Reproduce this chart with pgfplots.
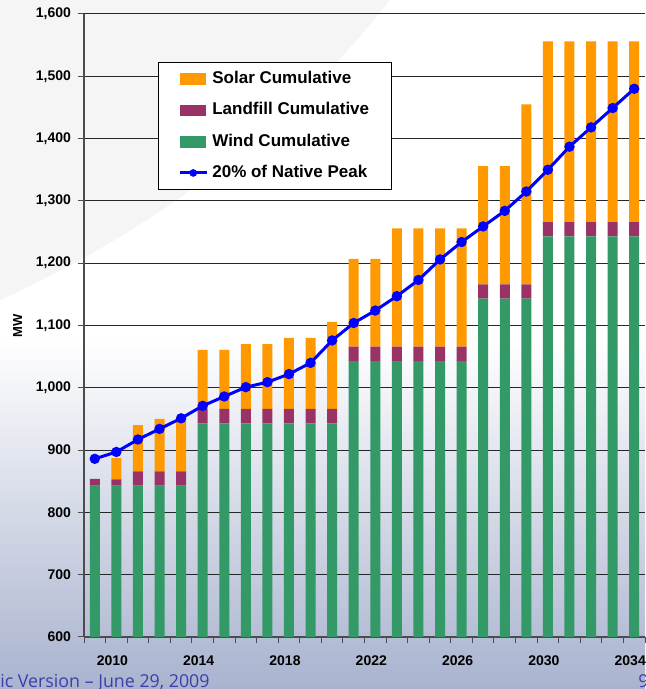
\documentclass[border=0pt]{standalone}
\usepackage{pgfplots}
\pgfplotsset{compat=1.18}
\usepackage{pgfplotstable}
\usepackage{fontspec}
\setmainfont{Liberation Sans}
\newfontfamily\footfont{Open Sans}

\definecolor{solar}{HTML}{FF9900}
\definecolor{landfill}{HTML}{993366}
\definecolor{wind}{HTML}{339966}
\definecolor{peak}{HTML}{0000FF}
\definecolor{slidebot}{HTML}{A9B3CF}
\definecolor{foot}{HTML}{3B3FA8}

% MW by year (yr 0 = 2009)
\pgfplotstableread{
yr wind landfill solar peak
0  843  11   0  886
1  843  10  34  897
2  843  23  74  917
3  843  23  84  934
4  843  23  84  951
5  943  23  95  971
6  943  23  95  986
7  943  23 104 1001
8  943  23 104 1009
9  943  23 114 1022
10 943  23 114 1040
11 943  23 140 1076
12 1043 23 141 1104
13 1043 23 141 1124
14 1043 23 190 1147
15 1043 23 190 1173
16 1043 23 190 1206
17 1043 23 190 1234
18 1143 23 190 1259
19 1143 23 190 1284
20 1143 23 289 1315
21 1243 23 290 1350
22 1243 23 290 1387
23 1243 23 290 1418
24 1243 23 290 1449
25 1243 23 290 1480
}\datatable

\begin{document}
\begin{tikzpicture}[x=1pt,y=1pt]
\useasboundingbox (0,0) rectangle (322.5,344.5);
\fill[white] (0,0) rectangle (322.5,344.5);
\shade[top color=white, bottom color=slidebot] (0,0) rectangle (322.5,175);
\fill[black!4] (0,344.5) -- (195,344.5) .. controls (160,300) and (100,240) .. (0,194.5) -- cycle;

\begin{axis}[
at={(42pt,26pt)}, anchor=south west,
scale only axis, width=280.5pt, height=311.5pt,
ybar stacked, bar width=5pt,
xmin=-0.5, xmax=25.5, ymin=600, ymax=1600,
xtick={1,5,...,25},
xticklabels={2010,2014,2018,2022,2026,2030,2034},
major x tick style={draw=none},
minor xtick={-0.5,0.5,...,25.5},
ytick={600,700,...,1600},
ymajorgrids, grid style={black!85, line width=0.5pt},
axis x line*=bottom, axis y line*=left,
axis line style={black!70, line width=0.6pt},
tick align=outside, tick style={black!70, line width=0.5pt},
major tick length=3pt, minor tick length=3pt,
/pgf/number format/1000 sep={,},
/pgf/number format/assume math mode=true,
ticklabel style={font=\bfseries\fontsize{7}{8}\selectfont},
xticklabel style={xshift=-2pt, yshift=-3pt},
ylabel={MW}, ylabel style={font=\bfseries\fontsize{6.5}{8}\selectfont},
legend style={at={(0.132,0.923)}, anchor=north west, draw=black, fill=white,
  font=\bfseries\fontsize{8.5}{10}\selectfont, row sep=4pt,
  inner xsep=9pt, inner ysep=2.5pt},
legend cell align=left,
]
\addlegendimage{legend image code/.code={\path (0pt,0pt); \fill[solar] (2pt,-2.7pt) rectangle (14.5pt,2.7pt);}}
\addlegendentry{Solar Cumulative}
\addlegendimage{legend image code/.code={\path (0pt,0pt); \fill[landfill] (2pt,-2.7pt) rectangle (14.5pt,2.7pt);}}
\addlegendentry{Landfill Cumulative}
\addlegendimage{legend image code/.code={\path (0pt,0pt); \fill[wind] (2pt,-2.7pt) rectangle (14.5pt,2.7pt);}}
\addlegendentry{Wind Cumulative}
\addlegendimage{legend image code/.code={\path (0pt,0pt); \draw[peak, line width=1.5pt] (1.5pt,0pt) -- (15pt,0pt); \fill[peak] (8.2pt,0pt) circle (1.7pt);}}
\addlegendentry{20\% of Native Peak}

\addplot[fill=wind, draw=none, forget plot] table[x=yr, y=wind] {\datatable};
\addplot[fill=landfill, draw=none, forget plot] table[x=yr, y=landfill] {\datatable};
\addplot[fill=solar, draw=none, forget plot] table[x=yr, y=solar] {\datatable};
\end{axis}

\begin{axis}[
at={(42pt,26pt)}, anchor=south west,
scale only axis, width=280.5pt, height=311.5pt,
xmin=-0.5, xmax=25.5, ymin=600, ymax=1600,
hide axis,
]
\addplot[peak, line width=1.5pt, mark=*, mark size=1.8pt, mark options={fill=peak, solid}] table[x=yr, y=peak] {\datatable};
\end{axis}

\node[anchor=base west, inner sep=0, text=foot, font=\footfont\fontsize{8.9}{10}\selectfont] at (0,0.6) {ic Version – June 29, 2009};
\node[anchor=base west, inner sep=0, text=foot, font=\footfont\fontsize{8.9}{10}\selectfont] at (319,0.6) {9};
\end{tikzpicture}
\end{document}
